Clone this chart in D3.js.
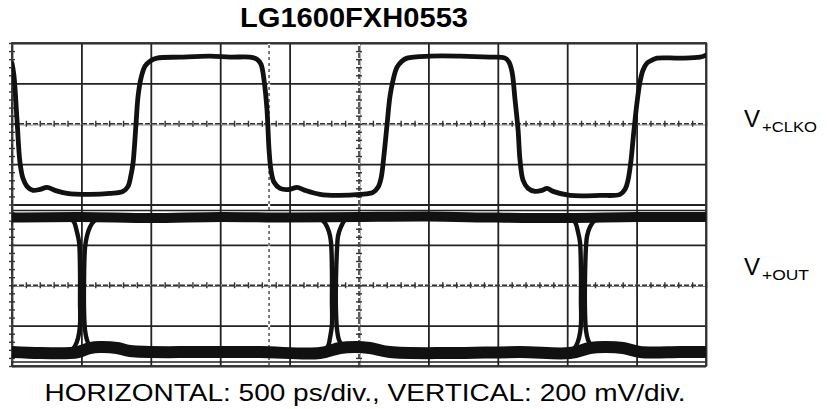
<!DOCTYPE html>
<html>
<head>
<meta charset="utf-8">
<script src="https://cdn.jsdelivr.net/npm/d3@7"></script>
<style>
  html, body { margin: 0; padding: 0; background: #fff; }
  svg { display: block; }
</style>
</head>
<body>
<svg id="chart" width="827" height="409"></svg>
<script>
// ---------- data ----------
const titleText = "LG1600FXH0553";
const footerText = "HORIZONTAL: 500 ps/div., VERTICAL: 200 mV/div.";
const seriesNames = ["V", "+CLKO", "+OUT"];

// major divisions: 500 ps/div horizontally, 200 mV/div vertically
const timeTicks = [0, 500, 1000, 1500, 2000, 2500, 3000, 3500, 4000, 4500, 5000];
const mvTicks = [0, 200, 400, 600, 800, 1000, 1200, 1400, 1600];
const tickedMvLines = [400, 1200];   // graticule lines carrying minor ticks
const tickedTimeLines = [0, 2500];
const cursorTimes = [1852];          // dashed cursor
const markerLevels = [770, 20];      // thin reference lines

// V+CLKO trace [ps, mV]
const clko = [
  [0,1500],[14,1440],[36,1220],[58,1005],[79,930],[108,890],[151,870],[202,875],[252,885],[310,870],
  [396,855],[562,850],[706,855],[800,865],[836,890],[857,945],[872,1005],[893,1195],[908,1335],[929,1425],
  [958,1485],[994,1510],[1045,1525],[1210,1530],[1427,1535],[1571,1530],[1715,1530],[1765,1520],[1794,1495],
  [1816,1415],[1837,1270],[1852,1070],[1866,970],[1888,910],[1931,880],[2003,875],[2053,885],[2111,870],
  [2219,850],[2342,845],[2507,850],[2601,860],[2637,885],[2659,930],[2680,1045],[2702,1195],[2723,1335],
  [2745,1415],[2774,1480],[2810,1510],[2846,1525],[3012,1535],[3228,1535],[3444,1530],[3552,1525],[3581,1505],
  [3603,1455],[3624,1320],[3646,1170],[3660,1020],[3682,920],[3718,880],[3768,865],[3819,870],[3855,880],
  [3898,865],[4020,845],[4237,845],[4381,850],[4417,875],[4438,920],[4460,1020],[4474,1120],[4489,1220],
  [4503,1305],[4524,1405],[4546,1465],[4575,1500],[4611,1515],[4647,1525],[4813,1525],[4957,1530],[5000,1540]
];

// V+OUT eye: high band, low band, and edges at three crossings [ps, mV]
const outHigh = [[0,735],[500,738],[1000,733],[1500,738],[2000,735],[2500,738],[3000,740],[3500,735],[4000,733],[4500,738],[5000,738]];
const outLow = [[0,69],[202,64],[418,64],[476,69],[562,89],[634,94],[757,89],[850,74],[1354,69],[1787,69],
  [2219,64],[2363,89],[2471,94],[2579,89],[2723,69],[3156,64],[3660,69],[4020,64],[4164,89],[4272,94],
  [4402,89],[4524,69],[4813,69],[5000,69]];
const edge1L = [[418,733],[447,713],[468,664],[483,614],[490,476],[490,327],[490,203],[476,139],[454,99],[418,69]];
const edge1R = [[634,733],[591,718],[562,689],[540,644],[526,585],[519,426],[519,277],[526,178],[540,129],[562,99],[598,94]];
const edge2L = [[2219,733],[2255,708],[2284,664],[2298,614],[2305,476],[2305,327],[2305,203],[2291,139],[2277,99],[2233,69]];
const edge2R = [[2450,738],[2399,723],[2370,689],[2349,644],[2342,585],[2334,426],[2334,277],[2342,178],[2356,129],[2378,104],[2421,94]];
const edge3L = [[4020,733],[4056,713],[4078,664],[4092,614],[4099,476],[4099,327],[4099,203],[4085,139],[4063,99],[4027,69]];
const edge3R = [[4251,738],[4200,723],[4164,689],[4143,644],[4135,585],[4128,426],[4128,277],[4135,178],[4150,129],[4171,104],[4215,94]];

// ---------- drawing ----------
const svg = d3.select("#chart");
const x = d3.scaleLinear().domain([0, 5000]).range([12, 706]);
const y = d3.scaleLinear().domain([0, 1600]).range([366, 43]);
const ink = "#111";

svg.append("defs").append("clipPath").attr("id", "screen").append("rect")
  .attr("x", x(0)).attr("y", y(1600)).attr("width", x(5000) - x(0)).attr("height", y(0) - y(1600));

// grid via axes
const gx = svg.append("g").attr("transform", `translate(0,${y(0)})`)
  .call(d3.axisBottom(x).tickValues(timeTicks).tickSize(-(y(0) - y(1600))).tickFormat(""));
const gy = svg.append("g").attr("transform", `translate(${x(0)},0)`)
  .call(d3.axisLeft(y).tickValues(mvTicks).tickSize(-(x(5000) - x(0))).tickFormat(""));
[gx, gy].forEach(g => {
  g.select(".domain").remove();
  g.selectAll(".tick line").attr("stroke", "#222").attr("stroke-width", 1.8);
});

// dashed graticule lines with minor ticks
const minorT = d3.range(0, 5001, 100);
const minorV = d3.range(0, 1601, 40);
tickedMvLines.forEach(v => {
  svg.append("line").attr("x1", x(0)).attr("x2", x(5000)).attr("y1", y(v)).attr("y2", y(v))
    .attr("stroke", "#fff").attr("stroke-width", 2.2);
  svg.append("line").attr("x1", x(0)).attr("x2", x(5000)).attr("y1", y(v)).attr("y2", y(v))
    .attr("stroke", "#333").attr("stroke-width", 1.6).attr("stroke-dasharray", "5,2");
  const a = svg.append("g").attr("transform", `translate(0,${y(v) + 3})`)
    .call(d3.axisTop(x).tickValues(minorT).tickSize(6).tickFormat(""));
  a.select(".domain").remove();
  a.selectAll(".tick line").attr("stroke", "#333").attr("stroke-width", 1.4);
});
tickedTimeLines.forEach(t => {
  svg.append("line").attr("x1", x(t)).attr("x2", x(t)).attr("y1", y(0)).attr("y2", y(1600))
    .attr("stroke", "#fff").attr("stroke-width", 2.2);
  svg.append("line").attr("x1", x(t)).attr("x2", x(t)).attr("y1", y(0)).attr("y2", y(1600))
    .attr("stroke", "#333").attr("stroke-width", 1.6).attr("stroke-dasharray", "5,2");
  const a = svg.append("g").attr("transform", `translate(${x(t) + 3},0)`)
    .call(d3.axisLeft(y).tickValues(minorV).tickSize(6).tickFormat(""));
  a.select(".domain").remove();
  a.selectAll(".tick line").attr("stroke", "#333").attr("stroke-width", 1.4);
});
cursorTimes.forEach(t => {
  svg.append("line").attr("x1", x(t)).attr("x2", x(t)).attr("y1", y(0)).attr("y2", y(1600))
    .attr("stroke", "#fff").attr("stroke-width", 2.2);
  svg.append("line").attr("x1", x(t)).attr("x2", x(t)).attr("y1", y(0)).attr("y2", y(1600))
    .attr("stroke", "#444").attr("stroke-width", 1.4).attr("stroke-dasharray", "3,3");
});
markerLevels.forEach(v => {
  svg.append("line").attr("x1", x(0)).attr("x2", x(5000)).attr("y1", y(v)).attr("y2", y(v))
    .attr("stroke", "#222").attr("stroke-width", 1.5);
});

// frame
svg.append("rect").attr("x", x(0)).attr("y", y(1600)).attr("width", x(5000) - x(0)).attr("height", y(0) - y(1600))
  .attr("fill", "none").attr("stroke", "#333").attr("stroke-width", 1.8);

// traces
const traces = svg.append("g").attr("clip-path", "url(#screen)");
const line = d3.line().x(d => x(d[0])).y(d => y(d[1])).curve(d3.curveCatmullRom.alpha(0.5));
const trace = (data, w) => traces.append("path").datum(data).attr("d", line)
  .attr("fill", "none").attr("stroke", ink).attr("stroke-width", w)
  .attr("stroke-linejoin", "round").attr("stroke-linecap", "round");

trace(clko, 4.8);
trace(outHigh, 10);
trace(outLow, 12);
[edge1L, edge1R, edge2L, edge2R, edge3L, edge3R].forEach(e => trace(e, 4.4));

// text
const font = "'Liberation Sans', Arial, Helvetica, sans-serif";
svg.append("text").attr("x", 354).attr("y", 27).attr("text-anchor", "middle")
  .attr("font-family", font).attr("font-weight", "bold").attr("font-size", 28)
  .attr("textLength", 228).attr("lengthAdjust", "spacingAndGlyphs").attr("fill", "#000").text(titleText);
svg.append("text").attr("x", 365).attr("y", 401).attr("text-anchor", "middle")
  .attr("font-family", font).attr("font-size", 24)
  .attr("textLength", 641).attr("lengthAdjust", "spacingAndGlyphs").attr("fill", "#000").text(footerText);

const labels = [{sub: seriesNames[1], base: 127, w: 55}, {sub: seriesNames[2], base: 275, w: 47}];
labels.forEach(l => {
  svg.append("text").attr("x", 744).attr("y", l.base).attr("font-family", font).attr("font-size", 24)
    .attr("fill", "#000").text(seriesNames[0]);
  svg.append("text").attr("x", 762).attr("y", l.base + 5).attr("font-family", font).attr("font-size", 15)
    .attr("textLength", l.w).attr("lengthAdjust", "spacingAndGlyphs").attr("fill", "#000").text(l.sub);
});
</script>
</body>
</html>
